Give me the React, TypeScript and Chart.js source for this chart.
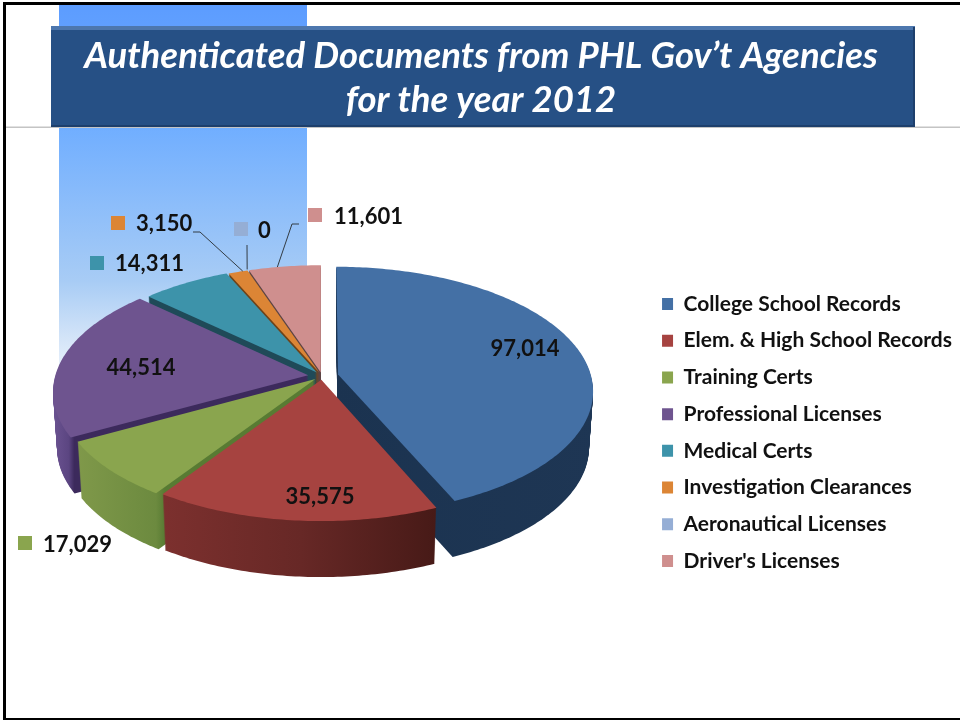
import React, { useEffect, useRef } from "react";
import { Chart, registerables } from "chart.js";

Chart.register(...registerables);

const categories = [
  "College School Records",
  "Elem. & High School Records",
  "Training Certs",
  "Professional Licenses",
  "Medical Certs",
  "Investigation Clearances",
  "Aeronautical Licenses",
  "Driver's Licenses",
];
const documents = [97014, 35575, 17029, 44514, 14311, 3150, 0, 11601];
const valueLabels = ["97,014", "35,575", "17,029", "44,514", "14,311", "3,150", "0", "11,601"];
const titleLines = ["Authenticated Documents from PHL Gov\u2019t Agencies", "for the year 2012"];
const faceColors = ["#4470a5", "#a64340", "#8aa54e", "#6e548f", "#3d93aa", "#dc8535", "#95aed5", "#cf8f8e"];
const sliceShifts = [13, 6, 7, 11, 7, 6, 8, 6];

// wall gradient stops: [screen x from, screen x to, stops]
const wallStyles: [number, number, [number, string][]][] = [
  [330, 600, [[0, "#1b3350"], [1, "#1e3654"]]],
  [165, 436, [[0, "#7c302e"], [0.5, "#672826"], [1, "#471a17"]]],
  [75, 165, [[0, "#80994a"], [0.9, "#6c8a3f"], [1, "#587b33"]]],
  [50, 320, [[0, "#6e5594"], [0.07, "#5b4581"], [0.09, "#3c2a5c"], [1, "#3c2a5c"]]],
  [140, 320, [[0, "#1f4a58"], [1, "#1f4a58"]]],
  [220, 320, [[0, "#6e4318"], [1, "#6e4318"]]],
  [220, 320, [[0, "#555"], [1, "#555"]]],
  [240, 325, [[0, "#5c4444"], [1, "#5c4444"]]],
];
const paintOrder = [7, 6, 5, 4, 3, 2, 0, 1];

const PIE = { x: 322, y: 376, a: 253, b: 122, k: 0.13, depth: 56 };
const FONT = "Lato, Carlito, sans-serif";

const insideLabels: Record<number, [number, number]> = { 0: [525, 349], 1: [320, 497], 3: [141, 368] };
const outsideLabels: Record<number, { key: [number, number]; text: [number, number] }> = {
  2: { key: [18, 536], text: [43, 545] },
  4: { key: [90, 256], text: [115, 264] },
  5: { key: [111, 216], text: [136, 224] },
  6: { key: [234, 222], text: [258, 231] },
  7: { key: [308, 208], text: [334, 217] },
};
const leaders: Record<number, { start: [number, number]; elbow: [number, number]; onArc: number }> = {
  5: { start: [193, 232], elbow: [200, 232], onArc: 0.75 },
  6: { start: [247, 245], elbow: [247, 246], onArc: 0.5 },
  7: { start: [299, 224], elbow: [292, 224], onArc: 0.4 },
};

function makeProjector(el: any, z: { value: number }) {
  const R = el.outerRadius;
  const cx = el.x;
  const cy = el.y;
  return (x: number, y: number): [number, number] => {
    const u = (x - cx) / R;
    const v = (y - cy) / R;
    const w = 1 - PIE.k * v;
    const shrink = 1 - (0.015 * z.value) / PIE.depth;
    return [PIE.x + ((PIE.a * u) / w) * shrink, PIE.y + (PIE.b * v) / w + z.value];
  };
}

function projectingContext(real: CanvasRenderingContext2D, project: (x: number, y: number) => [number, number]) {
  let tx = 0;
  let ty = 0;
  const stack: [number, number][] = [];
  const api: any = {
    save() { stack.push([tx, ty]); real.save(); },
    restore() { [tx, ty] = stack.pop() as [number, number]; real.restore(); },
    translate(x: number, y: number) { tx += x; ty += y; },
    moveTo(x: number, y: number) { const p = project(x + tx, y + ty); real.moveTo(p[0], p[1]); },
    lineTo(x: number, y: number) { const p = project(x + tx, y + ty); real.lineTo(p[0], p[1]); },
    arc(x: number, y: number, r: number, a0: number, a1: number) {
      const span = a1 - a0;
      const steps = Math.max(2, Math.ceil(Math.abs(span) / 0.015));
      for (let i = 0; i <= steps; i++) {
        const t = a0 + (span * i) / steps;
        api.lineTo(x + r * Math.cos(t), y + r * Math.sin(t));
      }
    },
  };
  return new Proxy(api, {
    get(target, key: string) {
      if (key in target) return target[key];
      const v = (real as any)[key];
      return typeof v === "function" ? v.bind(real) : v;
    },
    set(_t, key: string, value) { (real as any)[key] = value; return true; },
  });
}

const backdropPlugin = {
  id: "backdrop",
  beforeDraw(chart: any) {
    const c: CanvasRenderingContext2D = chart.ctx;
    c.save();
    c.fillStyle = "#ffffff";
    c.fillRect(0, 0, 960, 721);
    const g = c.createLinearGradient(0, 4, 0, 400);
    g.addColorStop(0, "#5c9cff");
    g.addColorStop(0.31, "#70aeff");
    g.addColorStop(0.7, "#a8ccf5");
    g.addColorStop(0.85, "#d5e5f8");
    g.addColorStop(1, "#ffffff");
    c.fillStyle = g;
    c.fillRect(59, 4, 248, 396);
    c.fillStyle = "#c4c4c4";
    c.fillRect(5, 126.5, 955, 1.5);
    c.fillStyle = "#265085";
    c.fillRect(51, 26, 864, 100);
    c.fillStyle = "#4d77ae";
    c.fillRect(51, 26, 864, 4);
    c.fillStyle = "#1d3f6c";
    c.fillRect(913, 27, 2, 99);
    c.fillRect(51, 125, 864, 2);
    c.fillStyle = "#000000";
    c.fillRect(3, 2, 957, 3);
    c.fillRect(3, 2, 3, 718);
    c.fillRect(3, 718, 957, 2);
    c.restore();
  },
};

const pie3dPlugin = {
  id: "pie3d",
  beforeDatasetsDraw(chart: any) {
    const real: CanvasRenderingContext2D = chart.ctx;
    const arcs = chart.getDatasetMeta(0).data;
    const z = { value: 0 };
    const project = makeProjector(arcs[0], z);
    const pctx = projectingContext(real, project);
    paintOrder.forEach((i) => {
      const el = arcs[i];
      if (!el || el.circumference === 0) return;
      const [x0, x1, stops] = wallStyles[i];
      const grad = real.createLinearGradient(x0, 0, x1, 0);
      stops.forEach(([s, col]) => grad.addColorStop(s, col));
      const mid = (el.startAngle + el.endAngle) / 2;
      const sx = Math.cos(mid) * sliceShifts[i];
      const sy = Math.sin(mid) * sliceShifts[i];
      pctx.translate(sx, sy);
      const saved = el.options;
      el.options = { ...saved, backgroundColor: grad };
      for (let d = PIE.depth; d >= 1; d--) {
        z.value = d;
        el.draw(pctx);
      }
      el.options = saved;
      z.value = 0;
      el.draw(pctx);
      pctx.translate(-sx, -sy);
    });
    return false;
  },
  afterDraw(chart: any) {
    const c: CanvasRenderingContext2D = chart.ctx;
    const arcs = chart.getDatasetMeta(0).data;
    const z = { value: 0 };
    const project = makeProjector(arcs[0], z);
    c.save();
    c.textBaseline = "middle";
    c.fillStyle = "#111111";
    c.font = `bold 22px ${FONT}`;
    Object.entries(insideLabels).forEach(([k, p]) => {
      c.textAlign = "center";
      c.fillText(valueLabels[+k], p[0], p[1]);
    });
    c.textAlign = "left";
    Object.entries(outsideLabels).forEach(([k, p]) => {
      c.fillStyle = faceColors[+k];
      c.fillRect(p.key[0], p.key[1], 14, 14);
      c.fillStyle = "#111111";
      c.fillText(valueLabels[+k], p.text[0], p.text[1]);
    });
    c.strokeStyle = "#333c44";
    c.lineWidth = 1;
    Object.entries(leaders).forEach(([k, l]) => {
      const el = arcs[+k];
      const ang = el.startAngle + (el.endAngle - el.startAngle) * l.onArc;
      const mid = (el.startAngle + el.endAngle) / 2;
      const off = sliceShifts[+k];
      const end = project(
        el.x + Math.cos(mid) * off + Math.cos(ang) * el.outerRadius,
        el.y + Math.sin(mid) * off + Math.sin(ang) * el.outerRadius
      );
      c.beginPath();
      c.moveTo(l.start[0], l.start[1]);
      c.lineTo(l.elbow[0], l.elbow[1]);
      c.lineTo(end[0], end[1]);
      c.stroke();
    });
    c.restore();
  },
};

export default function App() {
  const ref = useRef<HTMLCanvasElement | null>(null);
  useEffect(() => {
    document.body.style.margin = "0";
    const chart = new Chart(ref.current as HTMLCanvasElement, {
      type: "pie",
      data: {
        labels: categories,
        datasets: [{ data: documents, backgroundColor: faceColors, borderWidth: 0 }],
      },
      options: {
        responsive: false,
        animation: false,
        events: [],
        radius: 200,
        layout: { padding: { top: 0, right: -2, bottom: 0, left: 0 } },
        plugins: {
          tooltip: { enabled: false },
          title: {
            display: true,
            text: titleLines,
            color: "#ffffff",
            align: "center",
            padding: { top: 34, bottom: 22 },
            font: { family: FONT, size: 36.5, weight: "bold", style: "italic", lineHeight: 1.205 },
          },
          legend: {
            display: true,
            position: "right",
            align: "center",
            fullSize: false,
            labels: {
              boxWidth: 11,
              boxHeight: 12,
              padding: 15.7,
              color: "#111111",
              font: { family: FONT, size: 21, weight: "bold" },
            },
          },
        },
      } as any,
      plugins: [backdropPlugin, pie3dPlugin] as any,
    });
    return () => chart.destroy();
  }, []);
  return <canvas ref={ref} width={960} height={721} style={{ display: "block" }} />;
}
